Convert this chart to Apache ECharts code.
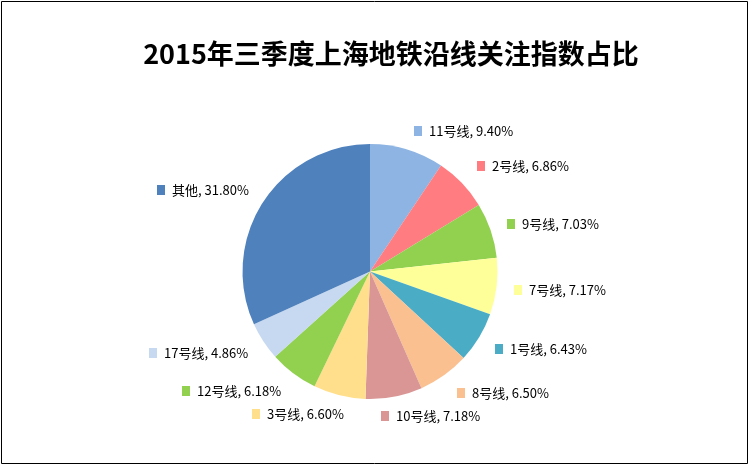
<!DOCTYPE html>
<html>
<head>
<meta charset="utf-8">
<script src="https://cdn.jsdelivr.net/npm/echarts@6/dist/echarts.min.js"></script>
<style>
html,body{margin:0;padding:0;background:#fff;}
#c{width:749px;height:467px;}
</style>
</head>
<body>
<div id="c"></div>
<script>
const titleText = '2015年三季度上海地铁沿线关注指数占比';
const categories = ['11号线','2号线','9号线','7号线','1号线','8号线','10号线','3号线','12号线','17号线','其他'];
const values = [9.40, 6.86, 7.03, 7.17, 6.43, 6.50, 7.18, 6.60, 6.18, 4.86, 31.80];
const colors = ['#8DB4E2','#FF7C80','#92D050','#FFFF99','#4BACC6','#FAC090','#D99694','#FFDF8C','#92D050','#C6D9F1','#4F81BD'];
// label anchor points (left edge of marker, vertical centre of text)
const labelAnchors = [[414,131],[477,166],[507,224],[514,290],[495,349],[457,393],[381,416],[252,414],[182,391],[149,353],[157,190]];

const rich = {
  t: {fontSize: 13, color: '#000', padding: [0,0,0,7], fontFamily: '"Noto Sans CJK SC", "Noto Sans", sans-serif'}
};
colors.forEach((c, i) => { rich['m' + i] = {width: 8, height: 8, backgroundColor: c, padding: [0,0,2,0]}; });

const chart = echarts.init(document.getElementById('c'));
chart.setOption({
  animation: false,
  backgroundColor: '#fff',
  title: {
    text: titleText,
    left: 386, top: 35, textAlign: 'center',
    textStyle: {fontSize: 27, fontWeight: 'bold', color: '#000', fontFamily: '"Noto Sans CJK SC", sans-serif'}
  },
  graphic: [{
    type: 'rect', shape: {x: 1.5, y: 1.5, width: 746, height: 462},
    style: {fill: 'none', stroke: '#000', lineWidth: 1}, silent: true
  }],
  series: [{
    type: 'pie',
    center: [370, 271.5],
    radius: 127.5,
    startAngle: 90,
    clockwise: true,
    itemStyle: {borderWidth: 0},
    labelLine: {show: false},
    label: {
      show: true,
      position: 'outside',
      formatter: p => '{m' + p.dataIndex + '|}{t|' + p.name + ', ' + p.value.toFixed(2) + '%}',
      rich: rich
    },
    labelLayout: p => ({
      x: labelAnchors[p.dataIndex][0],
      y: labelAnchors[p.dataIndex][1],
      align: 'left',
      verticalAlign: 'middle'
    }),
    data: categories.map((n, i) => ({name: n, value: values[i], itemStyle: {color: colors[i]}}))
  }]
});
</script>
</body>
</html>
